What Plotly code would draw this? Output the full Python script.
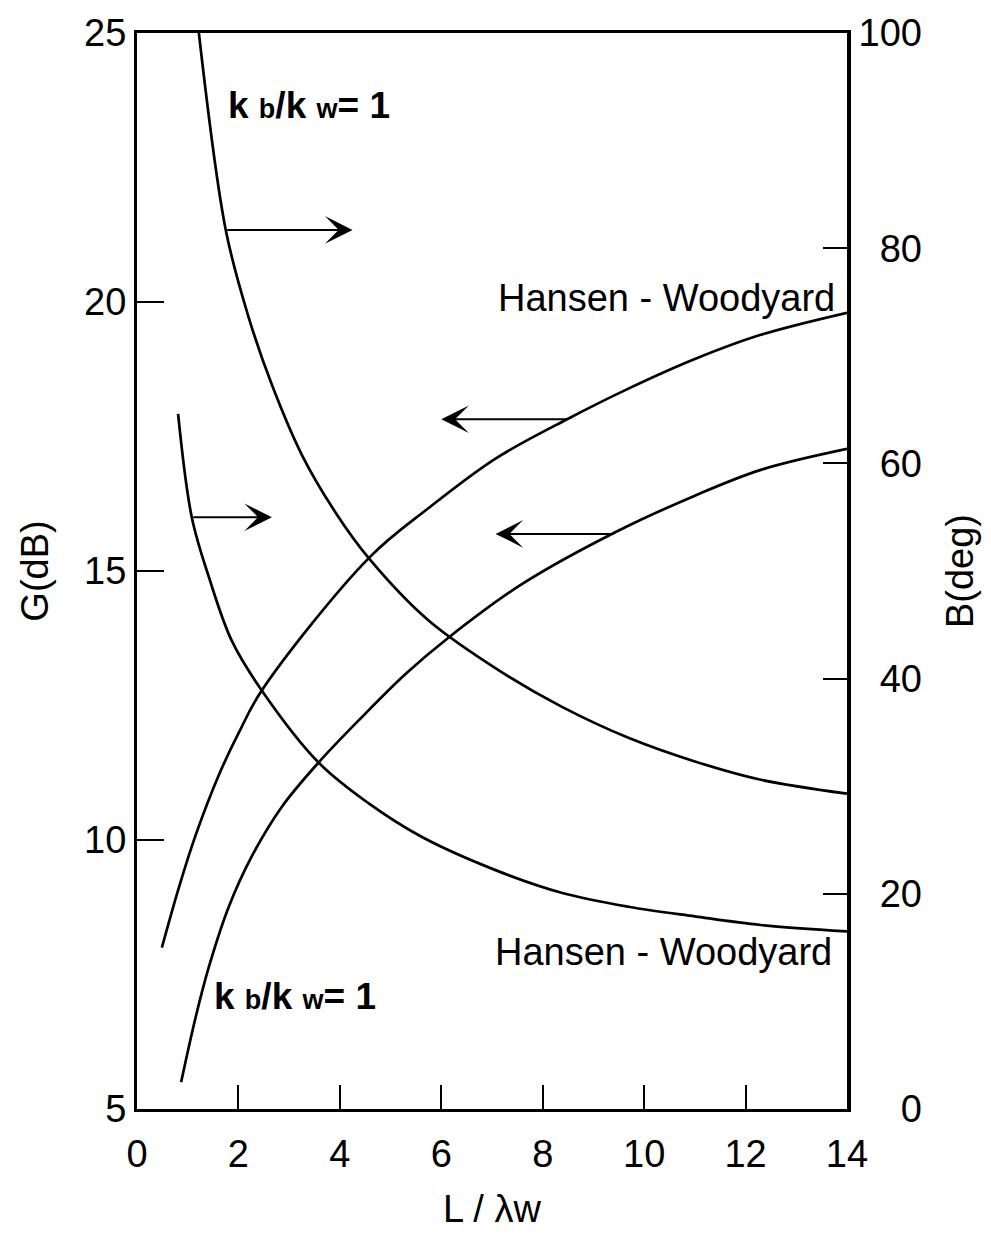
import plotly.graph_objects as go

# ---- data ----
# Gain curves (left axis, G in dB)
g_hw_x = [0.49, 0.83, 1.16, 1.61, 2.0, 2.46, 4.57, 5.75, 7.07, 8.5, 9.69, 11.0, 12.3, 14.0]
g_hw_y = [8.0, 9.13, 10.1, 11.2, 11.98, 12.78, 15.24, 16.17, 17.09, 17.83, 18.39, 18.94, 19.39, 19.8]

g_k1_x = [0.87, 1.16, 1.42, 1.81, 2.26, 2.85, 3.58, 4.43, 5.30, 6.14, 7.58, 9.43, 11.0, 12.3, 14.0]
g_k1_y = [5.5, 6.72, 7.65, 8.76, 9.69, 10.61, 11.44, 12.28, 13.09, 13.76, 14.75, 15.72, 16.4, 16.88, 17.27]

# Beamwidth curves (right axis, B in deg)
b_k1_x = [1.22, 1.75, 2.20, 2.66, 3.25, 3.92, 4.57, 5.75, 7.19, 8.37, 9.69, 11.0, 12.3, 14.0]
b_k1_y = [100.0, 81.7, 73.6, 67.3, 60.8, 55.4, 51.2, 45.4, 40.6, 37.4, 34.5, 32.3, 30.6, 29.3]

b_hw_x = [0.81, 1.08, 1.42, 1.87, 2.46, 3.58, 4.57, 5.61, 7.07, 8.37, 9.69, 11.0, 12.3, 14.0]
b_hw_y = [64.6, 55.0, 49.4, 43.5, 38.9, 32.2, 28.4, 25.3, 22.2, 20.1, 18.8, 17.9, 17.1, 16.5]

# axis ticks
x_ticks = [0, 2, 4, 6, 8, 10, 12, 14]
g_ticks = [5, 10, 15, 20, 25]
b_ticks = [0, 20, 40, 60, 80, 100]
b_ticktext = ["\u2007\u20070", "\u200720", "\u200740", "\u200760", "\u200780", "100"]

# arrows: (tail x, tip x, level, axis)
arrows = [
    (1.75, 4.25, 81.7, "y2"),
    (1.08, 2.66, 55.0, "y2"),
    (8.5, 6.0, 17.82, "y"),
    (9.43, 7.07, 15.69, "y"),
]

FONT = "Liberation Sans, Arial, sans-serif"
LINE = dict(color="black", width=2.7, shape="spline", smoothing=1.0)

fig = go.Figure()
fig.add_trace(go.Scatter(x=g_hw_x, y=g_hw_y, mode="lines", line=LINE, yaxis="y"))
fig.add_trace(go.Scatter(x=g_k1_x, y=g_k1_y, mode="lines", line=LINE, yaxis="y"))
fig.add_trace(go.Scatter(x=b_k1_x, y=b_k1_y, mode="lines", line=LINE, yaxis="y2"))
fig.add_trace(go.Scatter(x=b_hw_x, y=b_hw_y, mode="lines", line=LINE, yaxis="y2"))

annotations = []
for tail, tip, lvl, ax in arrows:
    annotations.append(dict(
        x=tip, y=lvl, xref="x", yref=ax,
        ax=tail, ay=lvl, axref="x", ayref=ax,
        text="", showarrow=True, arrowhead=3, arrowsize=2.3,
        arrowwidth=2, arrowcolor="black",
    ))

kk = ("<b>k <span style='font-size:27px'>b</span>/k "
      "<span style='font-size:27px'>w</span>= 1</b>")
annotations += [
    dict(x=1.76, y=23.65, xref="x", yref="y", text=kk, showarrow=False,
         xanchor="left", yanchor="middle", font=dict(size=37, family=FONT, color="black")),
    dict(x=1.48, y=7.09, xref="x", yref="y", text=kk, showarrow=False,
         xanchor="left", yanchor="middle", font=dict(size=37, family=FONT, color="black")),
    dict(x=13.8, y=20.07, xref="x", yref="y", text="Hansen - Woodyard", showarrow=False,
         xanchor="right", yanchor="middle", font=dict(size=38, family=FONT, color="black")),
    dict(x=13.75, y=7.91, xref="x", yref="y", text="Hansen - Woodyard", showarrow=False,
         xanchor="right", yanchor="middle", font=dict(size=38, family=FONT, color="black")),
]

fig.update_layout(
    width=991, height=1235,
    margin=dict(l=137, r=144, t=29, b=124),
    paper_bgcolor="white", plot_bgcolor="white",
    showlegend=False,
    font=dict(family=FONT, color="black", size=38),
    annotations=annotations,
    xaxis=dict(
        range=[0, 14], tickvals=x_ticks, ticks="inside", ticklen=24, tickwidth=2,
        tickcolor="black", showline=True, linewidth=3, linecolor="black", mirror=True,
        showgrid=False, zeroline=False, ticklabelstandoff=9,
        tickfont=dict(size=38, family=FONT),
        title=dict(text="L / λw", standoff=22, font=dict(size=38, family=FONT)),
    ),
    yaxis=dict(
        range=[5, 25], tickvals=g_ticks, ticks="inside", ticklen=27, tickwidth=2,
        tickcolor="black", showline=True, linewidth=3, linecolor="black",
        showgrid=False, zeroline=False, ticklabelstandoff=0,
        tickfont=dict(size=38, family=FONT),
        title=dict(text="G(dB)", standoff=24, font=dict(size=38, family=FONT)),
    ),
    yaxis2=dict(
        range=[0, 100], tickvals=b_ticks, ticktext=b_ticktext, overlaying="y", side="right",
        ticks="inside", ticklen=24, tickwidth=2, tickcolor="black",
        showline=True, linewidth=4, linecolor="black",
        showgrid=False, zeroline=False, ticklabelstandoff=0,
        tickfont=dict(size=38, family=FONT),
        title=dict(text="B(deg)", standoff=26, font=dict(size=38, family=FONT)),
    ),
)

fig.write_html("out.html")
